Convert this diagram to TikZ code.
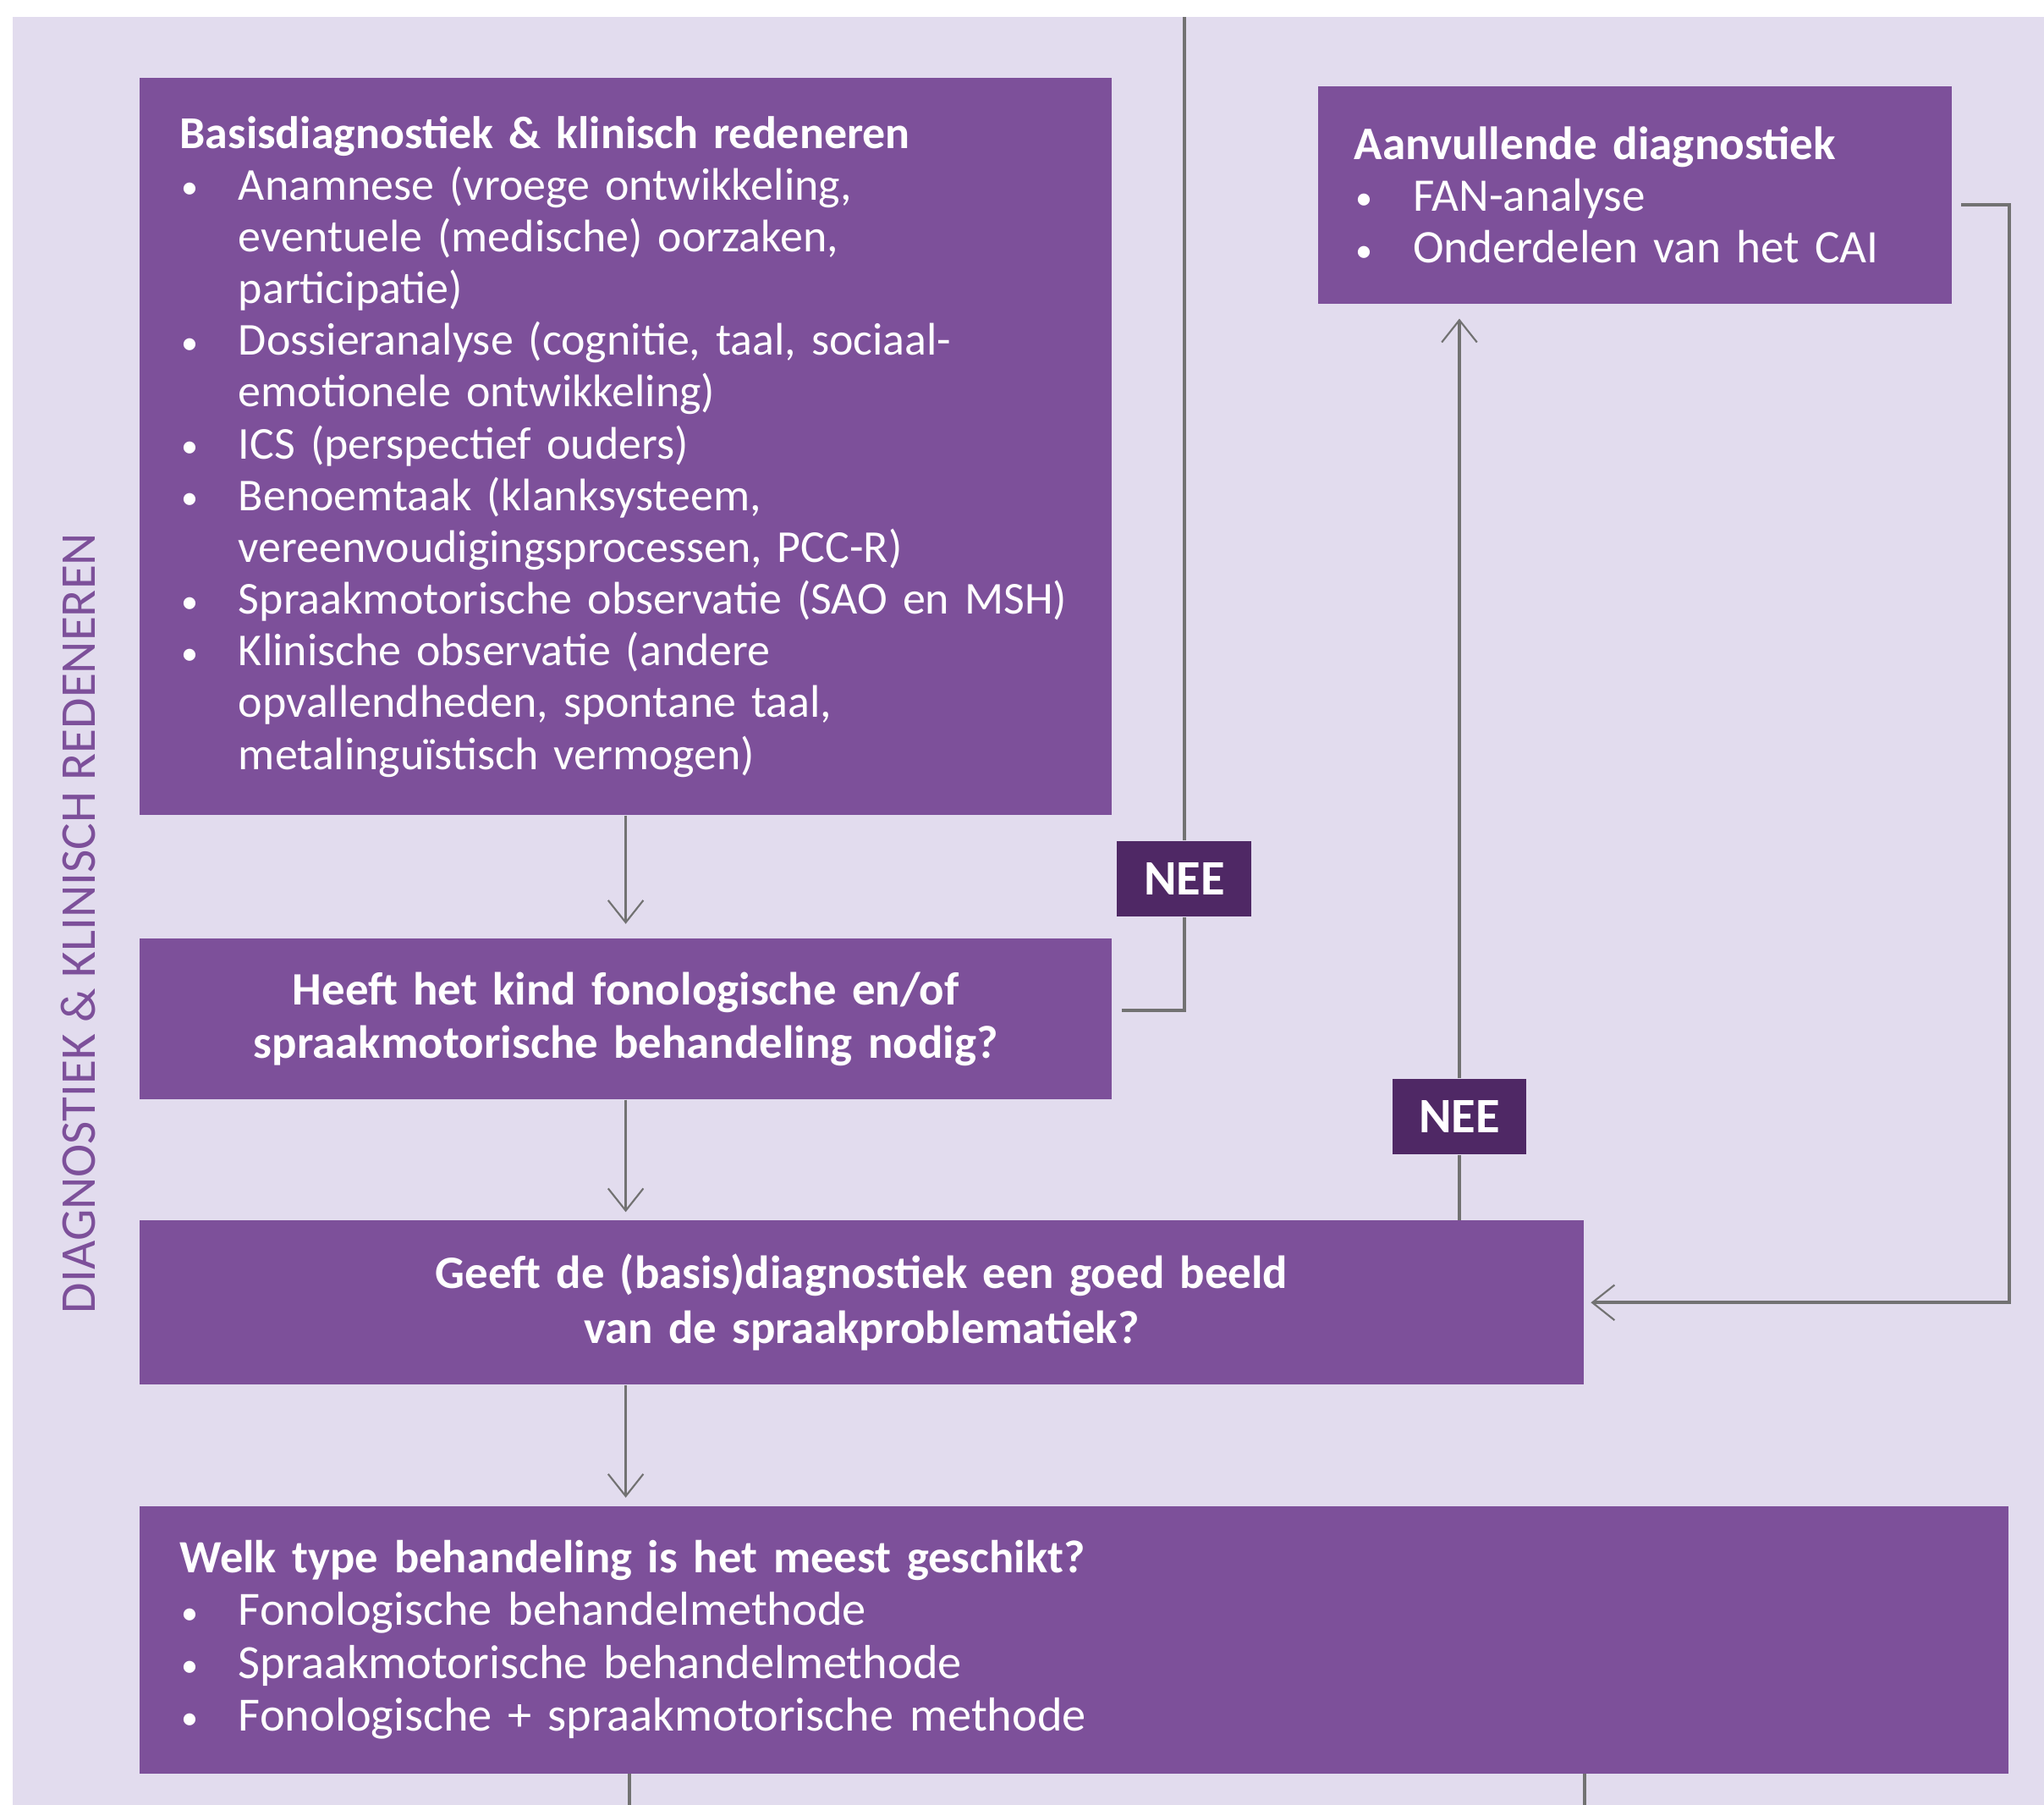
\documentclass[tikz,border=0pt]{standalone}
\usepackage{fontspec}
\setmainfont{Carlito}
\usepackage{tikz}
\usetikzlibrary{arrows.meta}
\usetikzlibrary{calc}

\definecolor{achtergrond}{HTML}{E2DCEE}
\definecolor{paars}{HTML}{7D509A}
\definecolor{donkerpaars}{HTML}{4F2865}
\definecolor{lijngrijs}{HTML}{727272}

% opsommingsteken met hangende inspringing
\newcommand{\punt}[1]{\par\noindent\hangindent=22.5pt\hangafter=1%
  \makebox[22.5pt][l]{\hspace{0.5pt}\raisebox{0.5pt}{\fontsize{13}{13}\selectfont\textbullet}}#1\par}

\begin{document}
\begin{tikzpicture}[x=0.5pt, y=-0.5pt, >={Straight Barb[length=8.5pt,width=13.5pt,line width=0.7pt]},
 blok/.style={fill=paars, text=white, inner sep=0pt, font=\fontsize{17.5}{19.85}\selectfont},
 nee box/.style={fill=donkerpaars, text=white, inner sep=0pt, minimum width=51.5pt,
   minimum height=29pt, font=\fontsize{19}{20}\selectfont\bfseries},
 flow line/.style={draw=lijngrijs, line width=1.2pt}]
    % vlak en achtergrond
    \fill[white] (0,0) rectangle (1568,1384);
    \useasboundingbox (0,0) rectangle (1568,1384);
    \fill[achtergrond] (10,13) rectangle (1568,1384);
    \coordinate (boven) at (0,13);
    \coordinate (onder) at (0,1384);

    \node[rotate=90, text=paars, font=\fontsize{19.2}{20}\selectfont] (zijlabel) at (60,708)
        {DIAGNOSTIEK \& KLINISCH REDENEREN};

    % blokken
    \node[blok, minimum width=373pt, minimum height=282.5pt, text width=342pt, align=left] (basis) at (480,342.5)
        {\textbf{Basisdiagnostiek \& klinisch redeneren}
        \punt{Anamnese (vroege ontwikkeling,\newline eventuele (medische) oorzaken,\newline participatie)}
        \punt{Dossieranalyse (cognitie, taal, sociaal-\newline emotionele ontwikkeling)}
        \punt{ICS (perspectief ouders)}
        \punt{Benoemtaak (klanksysteem,\newline vereenvoudigingsprocessen, PCC-R)}
        \punt{Spraakmotorische observatie (SAO en MSH)}
        \punt{Klinische observatie (andere\newline opvallendheden, spontane taal,\newline metalinguïstisch vermogen)}};
    \node[blok, minimum width=243pt, minimum height=83.5pt, text width=215pt, align=left,
        font=\fontsize{17.9}{19.85}\selectfont] (aanv) at (1254,149.5)
        {\textbf{Aanvullende diagnostiek}
        \punt{FAN-analyse}
        \punt{Onderdelen van het CAI}};
    \node[blok, minimum width=373pt, minimum height=61.5pt, text width=340pt, align=center,
        font=\fontsize{17.8}{20.5}\selectfont\bfseries] (heeft) at (480,781.5)
        {Heeft het kind fonologische en/of\\ spraakmotorische behandeling nodig?};
    \node[blok, minimum width=554pt, minimum height=63pt, text width=500pt, align=center,
        font=\fontsize{17.8}{21}\selectfont\bfseries] (geeft) at (661,999)
        {Geeft de (basis)diagnostiek een goed beeld\\ van de spraakproblematiek?};
    \node[blok, minimum width=717pt, minimum height=102.5pt, text width=686pt, align=left,
        font=\fontsize{18.3}{20.2}\selectfont] (welk) at (824,1257.5)
        {\textbf{\fontsize{17.7}{20.2}\selectfont Welk type behandeling is het meest geschikt?}
        \punt{Fonologische behandelmethode}
        \punt{Spraakmotorische behandelmethode}
        \punt{Fonologische + spraakmotorische methode}};

    \node[nee box] (nee1) at (908.5,674) {NEE};
    \node[nee box] (nee2) at (1119.5,856.5) {NEE};

    % verbindingen
    \draw[flow line, ->, shorten >=5.5pt] (basis.south) -- (heeft.north);
    \draw[flow line, ->, shorten >=3pt] (heeft.south) -- (heeft.south |- geeft.north);
    \draw[flow line, ->, shorten >=3pt] (geeft.south -| heeft.south) -- (welk.north -| heeft.south);
    \draw[flow line] ([shift={(7,-6.5)}]heeft.east) -| (nee1.south);
    \draw[flow line] (nee1.north) -- (nee1.north |- boven);
    \draw[flow line] (geeft.north -| nee2.south) -- (nee2.south);
    \draw[flow line, ->, shorten >=5.5pt] (nee2.north) -- (nee2.north |- aanv.south);
    \draw[flow line, ->, shorten >=2.5pt] ([shift={(7,7.5)}]aanv.east) -- ++(37,0) |- (geeft.east);
    \draw[flow line] ([xshift=1.5pt]welk.south -| heeft.south) -- ([xshift=1.5pt]onder -| heeft.south);
    \draw[flow line] (welk.south -| geeft.east) -- (onder -| geeft.east);

\end{tikzpicture}
\end{document}
